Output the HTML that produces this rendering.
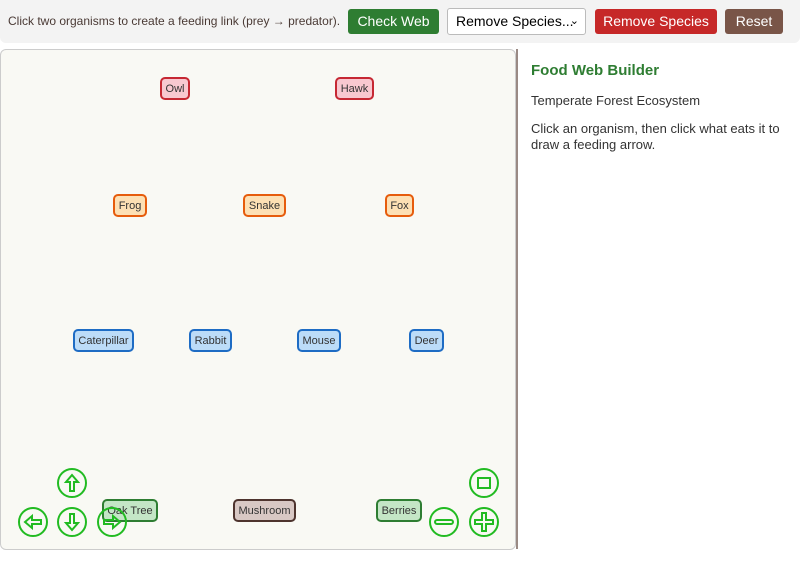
<!DOCTYPE html>
<html><head><style>
body{margin:0;width:800px;height:580px;background:#fff;font-family:"Liberation Sans",sans-serif;position:relative;overflow:hidden}
.bar{position:absolute;left:0;top:0;width:800px;height:43px;background:#f3f3f3;border-radius:0 0 6px 6px}
.bar .t{position:absolute;left:8px;top:14px;font-size:12px;color:#4a3a35}
.btn{position:absolute;top:9px;height:25px;border-radius:3px;color:#fff;font-size:14px;text-align:center;line-height:25px}
.sel{position:absolute;left:447px;top:8px;border:1px solid #bbb;border-radius:3px;background:#fff;font-size:14px;line-height:25px;padding-left:8px;box-sizing:border-box;width:139px;height:27px}
.panel{position:absolute;left:0;top:49px;width:516px;height:501px;background:#f9f9f4;border:1px solid #ccc;border-radius:6px;box-sizing:border-box}
.div{position:absolute;left:516px;top:49px;width:2px;height:500px;background:#9a8a84}
.n{position:absolute;height:23px;box-sizing:border-box;border:2px solid;border-radius:5px;font-size:11px;color:#333;text-align:center;line-height:21px}
.r{background:#f8c8d0;border-color:#c62833}.o{background:#fde0b4;border-color:#e65c0c}.b{background:#bcdcf8;border-color:#1e6cc4}.g{background:#c4e6c6;border-color:#2e7d32}.m{background:#d8c8c4;border-color:#4e342e}
h3{position:absolute;left:531px;top:62px;margin:0;font-size:15px;color:#2e7d32}
.p{position:absolute;left:531px;font-size:13px;color:#333;line-height:16px;width:262px}
</style></head><body>
<div class="bar"><div class="t">Click two organisms to create a feeding link (prey → predator).</div>
<div class="btn" style="left:348px;width:91px;background:#2e7d32">Check Web</div>
<div class="sel">Remove Species...<span style="position:absolute;right:6px;font-size:11px">&#8964;</span></div>
<div class="btn" style="left:595px;width:122px;background:#c62828">Remove Species</div>
<div class="btn" style="left:725px;width:58px;background:#795548">Reset</div></div>
<div class="panel"></div><div class="div"></div>
<div class="n r" style="left:160px;top:77px;width:30px">Owl</div>
<div class="n r" style="left:335px;top:77px;width:39px">Hawk</div>
<div class="n o" style="left:113px;top:194px;width:34px">Frog</div>
<div class="n o" style="left:243px;top:194px;width:43px">Snake</div>
<div class="n o" style="left:385px;top:194px;width:29px">Fox</div>
<div class="n b" style="left:73px;top:329px;width:61px">Caterpillar</div>
<div class="n b" style="left:189px;top:329px;width:43px">Rabbit</div>
<div class="n b" style="left:297px;top:329px;width:44px">Mouse</div>
<div class="n b" style="left:409px;top:329px;width:35px">Deer</div>
<div class="n g" style="left:102px;top:499px;width:56px">Oak Tree</div>
<div class="n m" style="left:233px;top:499px;width:63px">Mushroom</div>
<div class="n g" style="left:376px;top:499px;width:46px">Berries</div>
<svg style="position:absolute;left:0;top:0" width="800" height="580" fill="none" stroke="#22bb22" stroke-width="2">
<circle cx="72" cy="483" r="14"/><path d="M72 475l-6 7h4v9h4v-9h4z"/>
<circle cx="33" cy="522" r="14"/><path d="M25 522l7-6v4h9v4h-9v4z"/>
<circle cx="72" cy="522" r="14"/><path d="M72 530l-6-7h4v-9h4v9h4z"/>
<circle cx="112" cy="522" r="14"/><path d="M120 522l-7-6v4h-9v4h9v4z"/>
<circle cx="444" cy="522" r="14"/><rect x="435" y="520" width="18" height="4" rx="2"/>
<circle cx="484" cy="522" r="14"/><path d="M482 513h4v7h7v4h-7v7h-4v-7h-7v-4h7z"/>
<circle cx="484" cy="483" r="14"/><rect x="478" y="478" width="12" height="10"/>
</svg>
<h3>Food Web Builder</h3>
<div class="p" style="top:93px">Temperate Forest Ecosystem</div>
<div class="p" style="top:121px">Click an organism, then click what eats it to draw a feeding arrow.</div>
</body></html>
